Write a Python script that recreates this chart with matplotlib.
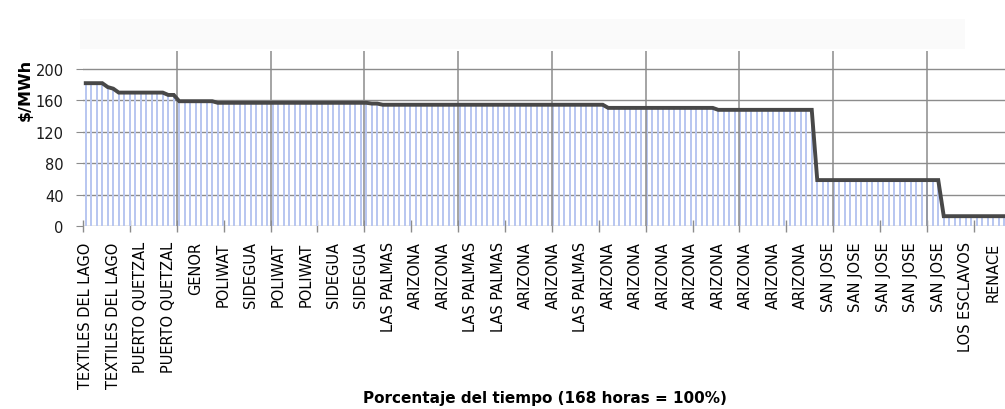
import matplotlib.pyplot as plt
import matplotlib.patches as patches
import numpy as np

price_levels = [182, 177, 175, 170, 167, 159, 157, 156, 154.5, 150.5, 148, 58.5, 12.5]
hours_at_level = [4, 1, 1, 9, 2, 7, 28, 2, 41, 20, 18, 23, 12]

# Marginal plant labelled every 5 hours (hour 0, 5, 10, ... 165)
plant_labels = ['TEXTILES DEL LAGO', 'TEXTILES DEL LAGO', 'PUERTO QUETZAL', 'PUERTO QUETZAL',
                'GENOR', 'POLIWAT', 'SIDEGUA', 'POLIWAT', 'POLIWAT', 'SIDEGUA', 'SIDEGUA',
                'LAS PALMAS', 'ARIZONA', 'ARIZONA', 'LAS PALMAS', 'LAS PALMAS', 'ARIZONA',
                'ARIZONA', 'LAS PALMAS', 'ARIZONA', 'ARIZONA', 'ARIZONA', 'ARIZONA', 'ARIZONA',
                'ARIZONA', 'ARIZONA', 'ARIZONA', 'SAN JOSE', 'SAN JOSE', 'SAN JOSE', 'SAN JOSE',
                'SAN JOSE', 'LOS ESCLAVOS', 'RENACE']
label_step = 5

y_ticks = [0, 40, 80, 120, 160, 200]

price = np.repeat(price_levels, hours_at_level)
hours = np.arange(len(price)) + 0.5

grid_col = '#8c8c8c'

fig = plt.figure(figsize=(10.05, 4.10), dpi=100)

# faint band left over from the slide above the chart
fig.patches.append(patches.Rectangle((80 / 1005, 1 - 50 / 410), 885 / 1005, 30 / 410,
                                     transform=fig.transFigure, facecolor='#fafafa',
                                     edgecolor='none', zorder=0))

ax = fig.add_axes([83 / 1005, 1 - 227 / 410, 924 / 1005, 175 / 410])

# horizontal grid behind the bars
for yv in y_ticks:
    ax.axhline(yv, color=grid_col, lw=1.0, zorder=1)

# hourly bars
ax.bar(hours, price, width=0.38, color='#b9c7f0', edgecolor='none', zorder=2)

# vertical grid
ax.vlines(np.arange(17.05, 168, 17.05), 0, 223, color=grid_col, lw=1.1, zorder=3)

# price curve
ax.plot(hours, price, color='#484848', lw=2.8, zorder=4, solid_joinstyle='miter')

ax.set_xlim(0, 168)
ax.set_ylim(0, 223)
for s in ax.spines.values():
    s.set_visible(False)

ax.set_yticks(y_ticks)
ax.tick_params(axis='y', length=5, color=grid_col, pad=9, labelsize=10.5, labelcolor='#1a1a1a')

ax.set_xticks(np.arange(len(plant_labels)) * label_step + 0.5)
ax.set_xticklabels(plant_labels, rotation=90, fontsize=10.5, color='#000000')
ax.tick_params(axis='x', which='major', length=0, pad=11)
ax.set_xticks(np.arange(0, 168, 8.525), minor=True)
ax.tick_params(axis='x', which='minor', length=8, direction='inout', color=grid_col, width=1)

fig.text(25 / 1005, 1 - 90 / 410, '$/MWh', rotation=90, ha='center', va='center',
         fontsize=11.5, fontweight='bold')
fig.text(545 / 1005, 1 - 399 / 410, 'Porcentaje del tiempo (168 horas = 100%)',
         ha='center', va='center', fontsize=11, fontweight='bold')

fig.savefig('out.png', dpi=100)
